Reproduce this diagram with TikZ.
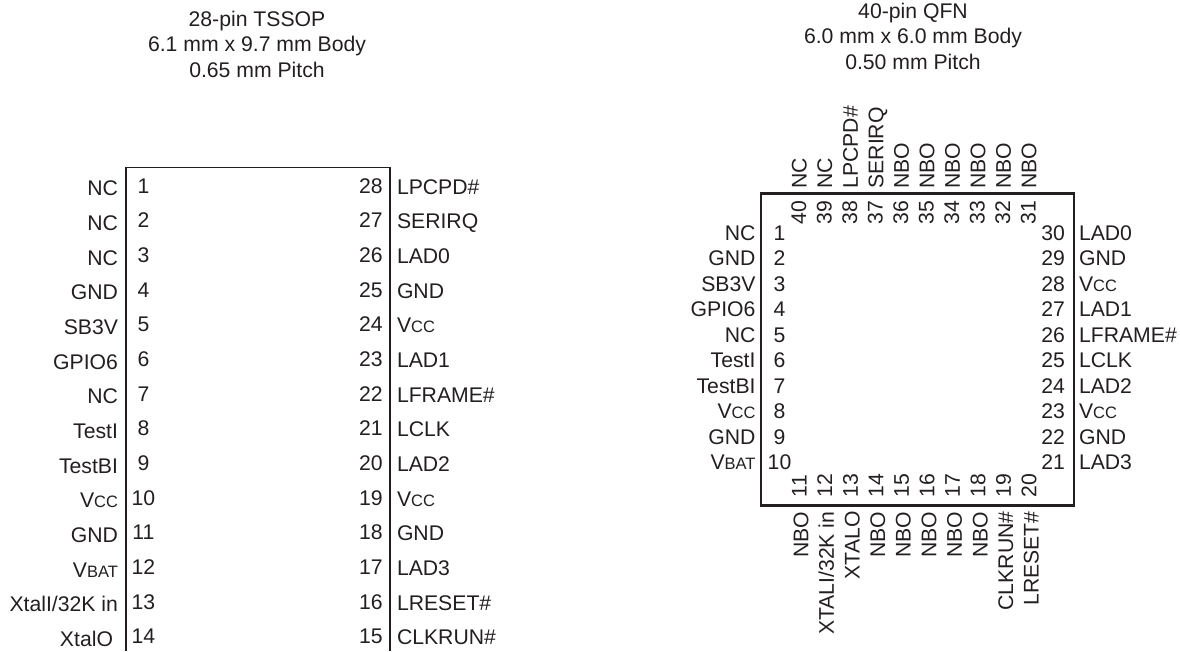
\documentclass[tikz,border=0pt]{standalone}
\usepackage{fontspec}
\setmainfont{Liberation Sans}
\definecolor{ink}{HTML}{231F20}
\newcommand{\smc}[1]{{\fontsize{16.5}{16.5}\selectfont #1}}
\tikzset{
  pinlabel/.style={inner sep=0pt,outer sep=0pt,text=ink,font=\fontsize{21.2}{23}\selectfont},
  leftlabel/.style={pinlabel,anchor=base east},
  rightlabel/.style={pinlabel,anchor=base west},
  pinnum/.style={pinlabel,anchor=base},
  upstart/.style={pinlabel,rotate=90,anchor=base west},
  upend/.style={pinlabel,rotate=90,anchor=base east},
  titletext/.style={pinlabel,anchor=base},
  outline/.style={draw=ink,line width=1.9pt},
  outlineb/.style={draw=ink,line width=2.3pt}
}
\begin{document}
\begin{tikzpicture}[x=1pt,y=-1pt]
\useasboundingbox (0,0) rectangle (1180,651);
% titles
\node[titletext] (ta1) at (257,26.7) {28-pin TSSOP};
\node[titletext] (ta2) at (257,51.7) {6.1 mm x 9.7 mm Body};
\node[titletext] (ta3) at (257,77.3) {0.65 mm Pitch};
\node[titletext] (tb1) at (913,18.3) {40-pin QFN};
\node[titletext] (tb2) at (913,43.3) {6.0 mm x 6.0 mm Body};
\node[titletext] (tb3) at (913,69.3) {0.50 mm Pitch};
% TSSOP body (open at the bottom)
\draw[outline] (126,651) -- (126,167.5) -- (390,167.5) -- (390,651);
\foreach \n/\t [count=\i from 0] in {1/NC,2/NC,3/NC,4/GND,5/SB3V,6/GPIO6,7/NC,8/TestI,9/TestBI,10/V\smc{CC},11/GND,12/V\smc{BAT},13/{XtalI/32K in}}{
  \node[leftlabel] (la\n) at (118,{195.7+34.68*\i}) {\t};
  \node[pinnum] (na\n) at (143.5,{193+34.68*\i}) {\n};
}
\node[leftlabel] (la14) at (113,646.7) {XtalO};
\node[pinnum] (na14) at (143.5,643.8) {14};
\foreach \n/\t [count=\i from 0] in {28/LPCPD\#,27/SERIRQ,26/LAD0,25/GND,24/V\smc{CC},23/LAD1,22/LFRAME\#,21/LCLK,20/LAD2,19/V\smc{CC},18/GND,17/LAD3,16/LRESET\#,15/CLKRUN\#}{
  \node[pinlabel,anchor=base east] (na\n) at (382.7,{193+34.68*\i}) {\n};
  \node[rightlabel] (la\n) at (397,{194+34.68*\i}) {\t};
}
% QFN body
\draw[outlineb] (761,193.5) rectangle (1074,505.5);
\foreach \n/\t [count=\i from 0] in {1/NC,2/GND,3/SB3V,4/GPIO6,5/NC,6/TestI,7/TestBI,8/V\smc{CC},9/GND,10/V\smc{BAT}}{
  \node[leftlabel] (lb\n) at (755.5,{240+25.5*\i}) {\t};
  \node[pinnum] (nb\n) at (779.5,{240+25.5*\i}) {\n};
}
\foreach \n/\t [count=\i from 0] in {30/LAD0,29/GND,28/V\smc{CC},27/LAD1,26/LFRAME\#,25/LCLK,24/LAD2,23/V\smc{CC},22/GND,21/LAD3}{
  \node[pinlabel,anchor=base east] (nb\n) at (1065,{240+25.5*\i}) {\n};
  \node[rightlabel] (lb\n) at (1079,{240+25.5*\i}) {\t};
}
\foreach \n/\t [count=\i from 0] in {40/NC,39/NC,38/LPCPD\#,37/SERIRQ,36/NBO,35/NBO,34/NBO,33/NBO,32/NBO,31/NBO}{
  \node[upstart] (lb\n) at ({806.7+25.52*\i},188.5) {\t};
  \node[upstart] (nb\n) at ({806+25.52*\i},224) {\n};
}
\foreach \n/\t [count=\i from 0] in {11/NBO,12/{XTALI/32K in},13/XTALO,14/NBO,15/NBO,16/NBO,17/NBO,18/NBO,19/CLKRUN\#,20/LRESET\#}{
  \node[upend] (lb\n) at ({808.3+25.6*\i},511.5) {\t};
  \node[upstart] (nb\n) at ({806.7+25.52*\i},497) {\n};
}
\end{tikzpicture}
\end{document}
